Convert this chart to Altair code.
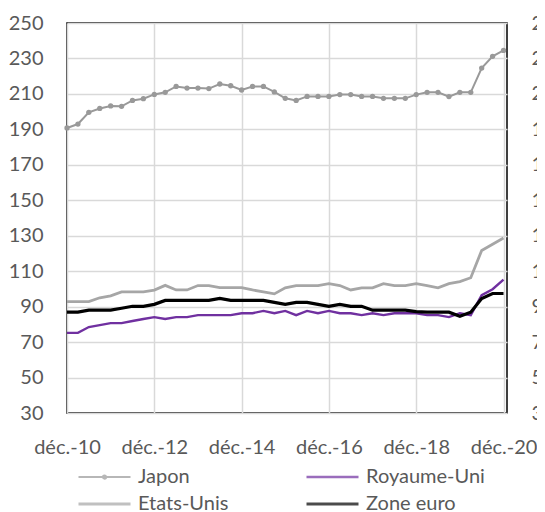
import altair as alt
import pandas as pd

# quarterly index, déc.-10 .. déc.-20
tick_labels = ["déc.-10", "déc.-12", "déc.-14", "déc.-16", "déc.-18", "déc.-20"]
tick_values = [0, 8, 16, 24, 32, 40]

japon = [190.8, 193.0, 199.6, 201.8, 203.2, 203.0, 206.3, 207.3, 209.7, 210.9,
         214.2, 213.3, 213.3, 213.0, 215.6, 214.6, 212.2, 214.2, 214.2, 211.1,
         207.5, 206.3, 208.6, 208.6, 208.6, 209.6, 209.6, 208.6, 208.6, 207.5,
         207.5, 207.5, 209.6, 210.9, 210.9, 208.5, 210.9, 210.9, 224.6, 231.2, 234.5]
etats_unis = [92.8, 92.8, 92.8, 95.0, 96.1, 98.3, 98.3, 98.3, 99.3, 102.0,
              99.4, 99.4, 101.9, 101.9, 100.7, 100.7, 100.7, 99.4, 98.3, 97.2,
              100.6, 101.9, 101.9, 101.9, 103.0, 101.9, 99.4, 100.6, 100.6, 103.0,
              101.9, 101.9, 103.0, 101.9, 100.6, 103.0, 104.1, 106.3, 121.7, 125.2, 128.7]
royaume_uni = [75.2, 75.2, 78.5, 79.6, 80.7, 80.7, 81.9, 83.0, 84.1, 83.0,
               84.1, 84.1, 85.2, 85.2, 85.2, 85.2, 86.3, 86.3, 87.6, 86.3,
               87.6, 85.2, 87.6, 86.3, 87.6, 86.3, 86.3, 85.2, 86.3, 85.2,
               86.3, 86.3, 86.3, 85.2, 85.2, 84.1, 86.3, 85.2, 96.5, 99.8, 105.2]
zone_euro = [86.9, 86.9, 88.0, 88.0, 88.0, 89.1, 90.2, 90.2, 91.3, 93.5,
             93.5, 93.5, 93.5, 93.5, 94.6, 93.5, 93.5, 93.5, 93.5, 92.4,
             91.3, 92.4, 92.4, 91.3, 90.2, 91.3, 90.2, 90.2, 88.0, 88.0,
             88.0, 88.0, 87.2, 86.9, 86.9, 86.9, 84.6, 86.9, 94.6, 97.4, 97.4]

series_names = ["Japon", "Royaume-Uni", "Etats-Unis", "Zone euro"]
series_values = [japon, royaume_uni, etats_unis, zone_euro]
colors = ["#999999", "#7030A0", "#A6A6A6", "#000000"]
widths = [2, 3.2, 4, 5.5]
LINE = "M-1,0H7"
LINE_DOT = "M-1,0H7M2.75,0a0.25,0.25 0 1,0 0.5,0a0.25,0.25 0 1,0 -0.5,0"
shapes = [LINE_DOT, LINE, LINE, LINE]

rows = []
for name, vals in zip(series_names, series_values):
    for i, v in enumerate(vals):
        rows.append({"q": i, "serie": name, "v": v})
df = pd.DataFrame(rows)

FONT = "Lato"
TXT = "#595959"
label_expr = "[" + ",".join("'" + t + "'" for t in tick_labels) + "][round(datum.value/8)]"

xscale = alt.Scale(domain=[0, 40.32], nice=False, zero=False)
yscale = alt.Scale(domain=[30, 250], nice=False, zero=False)
yvals = list(range(30, 251, 20))

xaxis = alt.Axis(values=tick_values, labelExpr=label_expr, title=None,
                 ticks=False, domain=False, labelPadding=24, labelOverlap=False,
                 labelFlush=False,
                 labelFontSize=20, labelColor=TXT, labelFont=FONT,
                 grid=True, gridColor="#d9d9d9", gridWidth=1.5)

legend = alt.Legend(title=None, orient="none", legendX=8, legendY=444,
                    columns=2, direction="horizontal", symbolType=LINE, symbolSize=169,
                    values=series_names,
                    labelFontSize=20, labelColor=TXT, labelFont=FONT,
                    columnPadding=71, rowPadding=7, labelOffset=43)

lines = alt.Chart(df).mark_line().encode(
    x=alt.X("q:Q", scale=xscale, axis=xaxis),
    y=alt.Y("v:Q", scale=yscale,
            axis=alt.Axis(values=yvals, title=None, ticks=False, domain=False,
                          labelPadding=24, labelFontSize=20, labelColor=TXT,
                          labelFont=FONT, grid=True, gridColor="#d9d9d9", gridWidth=1.5)),
    color=alt.Color("serie:N", scale=alt.Scale(domain=series_names, range=colors),
                    sort=series_names, legend=legend),
    strokeWidth=alt.StrokeWidth("serie:N", scale=alt.Scale(domain=series_names, range=widths),
                                sort=series_names, legend=legend),
)

points = alt.Chart(df[df.serie == "Japon"]).mark_circle(size=28, color="#999999", opacity=1).encode(
    x=alt.X("q:Q", scale=xscale, axis=xaxis),
    y=alt.Y("v:Q", scale=yscale, axis=None),
)

# empty layer carrying only the legend symbol shapes
legend_shapes = alt.Chart(df[df.q < 0]).mark_point(filled=False).encode(
    x=alt.X("q:Q", scale=xscale, axis=xaxis),
    y=alt.Y("v:Q", scale=yscale, axis=None),
    shape=alt.Shape("serie:N", scale=alt.Scale(domain=series_names, range=shapes),
                    sort=series_names, legend=legend),
)

right_axis = alt.Chart(df[df.serie == "Japon"]).mark_line(opacity=0).encode(
    x=alt.X("q:Q", scale=xscale, axis=xaxis),
    y=alt.Y("v:Q", scale=yscale,
            axis=alt.Axis(orient="right", values=yvals, title=None, ticks=False, domain=False,
                          labelPadding=24, labelFontSize=20, labelColor=TXT,
                          labelFont=FONT, grid=False)),
)

chart = alt.layer(lines, points, legend_shapes, right_axis).resolve_scale(y="independent").properties(
    width=440, height=390,
    autosize=alt.AutoSizeParams(type="none"),
    padding={"left": 59, "top": 15, "right": 30, "bottom": 99},
).configure_view(stroke="#000000", strokeWidth=1.5)

chart.save("out.html", embed_options={"renderer": "svg", "actions": False})
